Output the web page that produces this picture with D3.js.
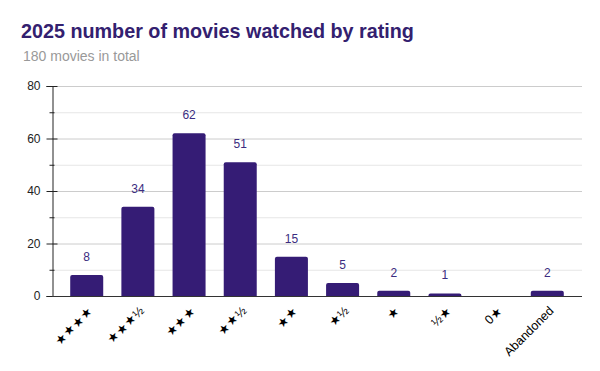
<!DOCTYPE html>
<html><head><meta charset="utf-8">
<script src="https://cdn.jsdelivr.net/npm/d3@7"></script>
<style>body{margin:0;background:#fff}svg{display:block;font-family:"Liberation Sans",Arial,sans-serif}</style>
</head><body><svg id="c" width="600" height="371"></svg>
<script>
const categories = ["★★★★","★★★½","★★★","★★½","★★","★½","★","½★","0★","Abandoned"];
const counts = [8,34,62,51,15,5,2,1,0,2];
const majorTicks = [0,20,40,60,80];
const minorTicks = [10,30,50,70];
const titleText = "2025 number of movies watched by rating";
const subtitleText = "180 movies in total";

const svg = d3.select("#c");
const plotLeft = 52, plotRight = 582, plotTop = 86, plotBottom = 296;
const y = d3.scaleLinear().domain([0,80]).range([plotBottom, plotTop]);
const x = d3.scaleBand().domain(categories).range([61, 573]).paddingInner(0.355).paddingOuter(0.18);
const barColor = "#351c75";
const rows = categories.map((c,i)=>({cat:c, v:counts[i]}));

svg.append("text").attr("x",21).attr("y",38).attr("font-size",19.75).attr("font-weight","bold").attr("fill","#33206f").text(titleText);
svg.append("text").attr("x",23).attr("y",61).attr("font-size",14).attr("fill","#999").text(subtitleText);

// gridlines
svg.append("g").selectAll("line").data(minorTicks).join("line")
  .attr("x1",plotLeft).attr("x2",plotRight).attr("y1",d=>y(d)+0.5).attr("y2",d=>y(d)+0.5)
  .attr("stroke","#e6e6e6");
svg.append("g").selectAll("line").data(majorTicks.filter(d=>d>0)).join("line")
  .attr("x1",plotLeft).attr("x2",plotRight).attr("y1",d=>y(d)+0.5).attr("y2",d=>y(d)+0.5)
  .attr("stroke","#cccccc");

// bars
svg.append("g").selectAll("rect").data(rows).join("rect")
  .attr("x",d=>x(d.cat)).attr("width",x.bandwidth())
  .attr("y",d=>y(d.v)).attr("height",d=>Math.max(0,plotBottom-y(d.v)+2))
  .attr("rx",2).attr("fill",barColor);
// cover bottom rounding
svg.append("rect").attr("x",0).attr("y",plotBottom).attr("width",600).attr("height",4).attr("fill","#fff");

// value labels
svg.append("g").selectAll("text").data(rows.filter(d=>d.v>0)).join("text")
  .attr("x",d=>x(d.cat)+x.bandwidth()/2)
  .attr("y",d=>y(d.v)-14).attr("text-anchor","middle").attr("font-size",12).attr("fill","#3b2c80")
  .text(d=>d.v);

// y axis
const yAxis = d3.axisLeft(y).tickValues(majorTicks).tickSize(6).tickPadding(6).tickFormat(d3.format("d"));
const gy = svg.append("g").attr("transform",`translate(${plotLeft+0.5},0)`).call(yAxis);
gy.select(".domain").attr("stroke","#222");
gy.selectAll(".tick line").attr("x2",5).attr("x1",-6).attr("stroke","#222");
gy.selectAll(".tick text").attr("font-size",12).attr("fill","#222").attr("font-family","Liberation Sans, Arial, sans-serif");
const ym = d3.axisLeft(y).tickValues(minorTicks).tickSize(3).tickFormat("");
const gm = svg.append("g").attr("transform",`translate(${plotLeft+0.5},0)`).call(ym);
gm.select(".domain").remove();
gm.selectAll(".tick line").attr("x2",2).attr("x1",-3).attr("stroke","#222");

// x axis
const xAxis = d3.axisBottom(x).tickSize(0).tickPadding(0);
const gx = svg.append("g").attr("transform",`translate(0,${plotBottom+0.5})`).call(xAxis);
gx.select(".domain").attr("d",`M${plotLeft},0H${plotRight}`).attr("stroke","#333");
gx.selectAll(".tick text").attr("font-size",12.5).attr("fill","#000")
  .attr("font-family","Liberation Sans, Arial, sans-serif")
  .attr("text-anchor","end").attr("dy","0.35em")
  .attr("transform","translate(4,12) rotate(-45)");
</script></body></html>
